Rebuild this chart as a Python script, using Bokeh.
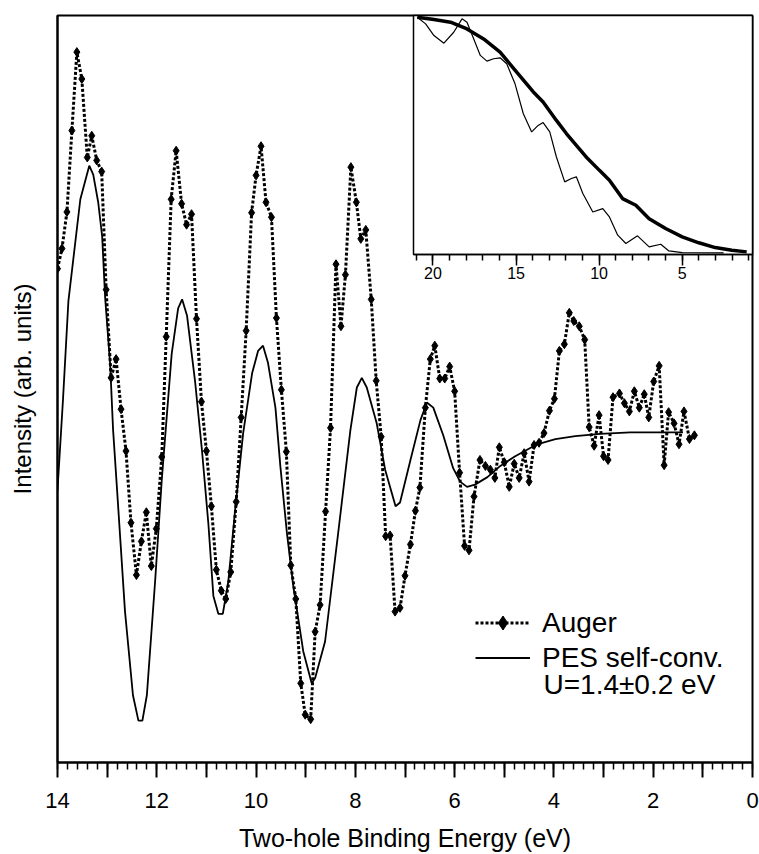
from bokeh.plotting import figure
from bokeh.models import Range1d, FixedTicker, Legend, LegendItem, Label, GridBox
from bokeh.embed import file_html
from bokeh.resources import INLINE

FONT = "Liberation Sans"

# ---------------- data (main panel) ----------------
auger_x = [14.00, 13.91, 13.81, 13.71, 13.61, 13.51, 13.40, 13.31, 13.21, 13.11, 13.02, 12.92, 12.82,
           12.72, 12.62, 12.52, 12.41, 12.31, 12.21, 12.11, 12.01, 11.90, 11.81, 11.71, 11.61, 11.50,
           11.40, 11.30, 11.20, 11.10, 11.00, 10.90, 10.80, 10.70, 10.61, 10.51, 10.40, 10.30, 10.20,
           10.09, 10.00, 9.90, 9.80, 9.69, 9.59, 9.49, 9.39, 9.30, 9.20, 9.10, 9.01, 8.90, 8.81, 8.71,
           8.60, 8.50, 8.39, 8.29, 8.20, 8.09, 7.98, 7.89, 7.79, 7.68, 7.58, 7.48, 7.39, 7.30, 7.20,
           7.10, 7.00, 6.89, 6.79, 6.70, 6.59, 6.49, 6.40, 6.30, 6.20, 6.10, 6.00, 5.90, 5.80, 5.71,
           5.61, 5.49, 5.38, 5.28, 5.19, 5.10, 5.00, 4.90, 4.80, 4.70, 4.60, 4.50, 4.40, 4.30, 4.20,
           4.09, 3.99, 3.89, 3.79, 3.69, 3.60, 3.49, 3.38, 3.29, 3.19, 3.09, 3.00, 2.91, 2.81, 2.68,
           2.58, 2.48, 2.38, 2.28, 2.18, 2.09, 1.99, 1.88, 1.78, 1.69, 1.58, 1.48, 1.38, 1.27, 1.17]
auger_y = [66.1, 68.8, 73.7, 84.6, 95.1, 91.5, 81.0, 83.9, 80.6, 79.1, 63.3, 51.5, 54.0, 47.3, 41.7,
           32.1, 25.1, 29.6, 33.5, 26.3, 31.3, 40.9, 57.0, 75.4, 81.9, 74.8, 72.0, 73.4, 59.4, 48.3,
           41.7, 34.3, 25.8, 23.0, 21.9, 25.5, 34.9, 46.2, 57.8, 73.6, 78.6, 82.5, 75.0, 73.0, 59.5,
           49.9, 41.6, 26.4, 21.9, 10.6, 6.4, 5.8, 17.5, 21.1, 33.6, 44.8, 66.7, 58.4, 65.3, 79.7,
           75.0, 70.1, 71.3, 62.0, 51.1, 43.6, 30.3, 30.4, 20.2, 20.7, 25.0, 29.2, 33.7, 36.8, 47.5,
           54.0, 55.8, 51.4, 51.4, 53.0, 49.7, 38.8, 29.0, 28.4, 35.6, 40.5, 39.7, 39.2, 38.1, 42.2,
           40.2, 36.9, 40.0, 38.1, 41.4, 37.6, 42.5, 42.8, 44.1, 47.1, 48.7, 55.1, 56.0, 60.2, 59.1,
           58.4, 56.6, 44.9, 42.4, 46.5, 41.0, 40.5, 48.9, 49.4, 48.1, 47.0, 49.7, 47.5, 49.3, 46.2,
           51.0, 53.1, 39.8, 46.9, 45.4, 42.6, 47.0, 43.3, 43.8]

pes_x = [14.00, 13.89, 13.78, 13.54, 13.36, 13.28, 13.18, 13.10, 13.04, 12.94, 12.88, 12.80, 12.64,
         12.48, 12.37, 12.29, 12.20, 12.03, 11.90, 11.70, 11.57, 11.49, 11.39, 11.23, 11.09, 10.96,
         10.86, 10.76, 10.67, 10.56, 10.42, 10.26, 10.08, 9.96, 9.86, 9.76, 9.61, 9.51, 9.38, 9.25,
         9.05, 8.88, 8.81, 8.61, 8.35, 8.10, 7.97, 7.87, 7.77, 7.57, 7.40, 7.19, 7.10, 6.89, 6.69,
         6.56, 6.43, 6.23, 6.03, 5.89, 5.75, 5.59, 5.34, 5.08, 4.78, 4.34, 3.97, 3.57, 3.07, 2.46, 1.40]
pes_y = [36.5, 48.5, 61.8, 75.4, 79.9, 78.7, 75.0, 70.4, 62.2, 53.4, 44.5, 36.5, 20.2, 9.0, 5.6, 5.6,
         9.0, 24.6, 37.8, 54.7, 60.8, 62.0, 59.8, 51.1, 41.8, 31.9, 22.3, 19.9, 19.9, 24.2, 33.9,
         44.1, 52.1, 55.1, 55.8, 53.5, 47.5, 39.6, 30.8, 23.6, 14.9, 10.6, 11.3, 16.2, 30.5, 44.5,
         50.2, 51.5, 50.2, 45.4, 39.2, 34.3, 34.8, 40.5, 45.8, 48.2, 47.5, 43.8, 39.4, 37.6, 36.9,
         37.2, 38.2, 39.7, 41.0, 42.6, 43.3, 43.7, 44.0, 44.2, 44.2]

x_major_ticks = list(range(0, 15))
x_label_ticks = [0, 2, 4, 6, 8, 10, 12, 14]
x_minor_ticks = [round(i * 0.2, 1) for i in range(0, 71)]

# ---------------- data (inset) ----------------
inset_thick_x = [20.94, 19.94, 18.94, 17.95, 16.95, 15.96, 14.96, 13.96, 13.37, 12.57, 11.97, 11.37,
                 10.78, 9.98, 9.38, 8.59, 7.79, 6.99, 6.00, 5.00, 4.00, 3.01, 2.01, 1.12]
inset_thick_y = [0.993, 0.983, 0.972, 0.944, 0.902, 0.847, 0.763, 0.680, 0.638, 0.561, 0.506, 0.457,
                 0.408, 0.352, 0.311, 0.234, 0.206, 0.150, 0.109, 0.074, 0.049, 0.029, 0.018, 0.011]
inset_thin_x = [20.94, 20.44, 19.94, 19.34, 18.75, 18.25, 17.95, 17.55, 17.15, 16.75, 16.35, 15.96,
                15.56, 15.06, 14.56, 14.06, 13.67, 13.37, 12.97, 12.57, 12.07, 11.67, 11.37, 10.98,
                10.38, 9.78, 9.38, 8.88, 8.39, 7.69, 6.99, 6.29, 5.80, 5.00, 2.51]
inset_thin_y = [0.993, 0.965, 0.916, 0.884, 0.930, 0.986, 0.972, 0.903, 0.833, 0.809, 0.819, 0.823,
                0.798, 0.714, 0.589, 0.513, 0.540, 0.552, 0.513, 0.408, 0.304, 0.318, 0.325, 0.255,
                0.178, 0.192, 0.157, 0.081, 0.046, 0.078, 0.032, 0.043, 0.015, 0.008, 0.007]
inset_major_ticks = [5, 10, 15, 20]
inset_minor_ticks = list(range(1, 22))

# ---------------- main figure ----------------
p = figure(width=759, height=854, output_backend="svg", toolbar_location=None,
           x_range=Range1d(14, 0), y_range=Range1d(0, 100),
           min_border_left=57, min_border_right=7, min_border_top=12, min_border_bottom=89,
           background_fill_color="white", border_fill_color="white")
p.xgrid.visible = False
p.ygrid.visible = False
p.outline_line_color = "black"
p.outline_line_width = 2

xa = p.xaxis[0]
xa.ticker = FixedTicker(ticks=x_major_ticks, minor_ticks=x_minor_ticks)
xa.major_label_overrides = {t: "" for t in x_major_ticks if t not in x_label_ticks}
xa.axis_line_width = 2
xa.axis_line_color = "black"
xa.major_tick_line_width = 2
xa.minor_tick_line_width = 1.5
xa.major_tick_in = 0
xa.major_tick_out = 15
xa.minor_tick_in = 0
xa.minor_tick_out = 7
xa.major_label_text_font = FONT
xa.major_label_text_font_size = "22px"
xa.major_label_text_color = "black"
xa.major_label_standoff = 15
xa.axis_label = "Two-hole Binding Energy (eV)"
xa.axis_label_text_font = FONT
xa.axis_label_text_font_size = "25px"
xa.axis_label_text_font_style = "normal"
xa.axis_label_text_color = "black"
xa.axis_label_standoff = 13

ya = p.yaxis[0]
ya.ticker = FixedTicker(ticks=[], minor_ticks=[])
ya.axis_line_width = 2
ya.axis_line_color = "black"
ya.major_tick_line_color = None
ya.minor_tick_line_color = None
ya.axis_label = "Intensity (arb. units)"
ya.axis_label_text_font = FONT
ya.axis_label_text_font_size = "24px"
ya.axis_label_text_font_style = "normal"
ya.axis_label_text_color = "black"
ya.axis_label_standoff = 22

pes_r = p.line(pes_x, pes_y, line_color="black", line_width=1.8)
aug_l = p.line(auger_x, auger_y, line_color="black", line_width=3, line_dash="3 2")
aug_s = p.scatter(auger_x, auger_y, marker="diamond", size=9, fill_color="black", line_color="black")

legend = Legend(items=[LegendItem(label="Auger", renderers=[aug_l, aug_s]),
                       LegendItem(label="PES self-conv.", renderers=[pes_r])],
                location=(418, 87), glyph_width=55, glyph_height=35, label_height=35,
                label_text_font=FONT, label_text_font_size="28px", label_text_color="black",
                label_standoff=12, spacing=0, padding=0, margin=0, border_line_color=None,
                background_fill_alpha=0)
p.add_layout(legend)

p.add_layout(Label(x=4.21, y=10.4, text="U=1.4\u00b10.2 eV", text_font=FONT, text_font_size="28px",
                   text_baseline="middle", text_align="left", text_color="black"))

# ---------------- inset figure ----------------
ins = figure(width=376, height=300, output_backend="svg", toolbar_location=None,
             x_range=Range1d(21.17, 0.77), y_range=Range1d(0, 1),
             min_border_left=30, min_border_right=6, min_border_top=15, min_border_bottom=46,
             background_fill_color="white", border_fill_alpha=0)
ins.xgrid.visible = False
ins.ygrid.visible = False
ins.yaxis.visible = False
ins.outline_line_color = "black"
ins.outline_line_width = 1.5
ia = ins.xaxis[0]
ia.ticker = FixedTicker(ticks=inset_major_ticks, minor_ticks=inset_minor_ticks)
ia.axis_line_width = 1.5
ia.major_tick_line_width = 1.5
ia.minor_tick_line_width = 1.5
ia.major_tick_in = 0
ia.major_tick_out = 11
ia.minor_tick_in = 0
ia.minor_tick_out = 6
ia.major_label_text_font = FONT
ia.major_label_text_font_size = "16px"
ia.major_label_text_color = "black"
ia.major_label_standoff = 1

ins.line(inset_thin_x, inset_thin_y, line_color="black", line_width=1.2)
ins.line(inset_thick_x, inset_thick_y, line_color="black", line_width=3.5)

grid = GridBox(children=[(p, 0, 0, 2, 2), (ins, 0, 1)],
               rows=["300px", "554px"], cols=["383px", "376px"])

open("out.html", "w").write(file_html(grid, INLINE))
